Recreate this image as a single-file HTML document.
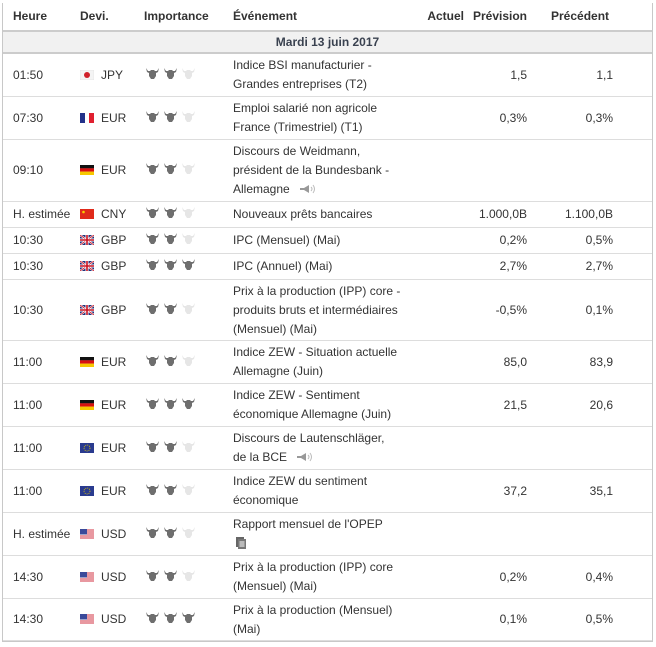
<!DOCTYPE html>
<html><head><meta charset="utf-8"><style>
body{margin:0;background:#fff;font-family:"Liberation Sans",Arial,sans-serif;font-size:12px;color:#333;}
.wrap{position:absolute;left:2px;top:3px;width:649px;height:638px;border:1px solid #c8c8c8;border-top:none;}
table{border-collapse:collapse;table-layout:fixed;width:649px;}
td,th{padding:0;vertical-align:middle;line-height:19px;}
th{font-weight:bold;text-align:left;height:27px;font-size:12px;color:#333;}
tr.date td{background:#f1f1f1;border-top:2px solid #ccc;border-bottom:2px solid #ccc;height:20px;text-align:center;font-weight:bold;color:#3a4250;}
tr.r td{border-bottom:1px solid #ddd;}
.h{padding-left:10px;}
.num{text-align:right;}
.flag{display:inline-block;vertical-align:-1px;margin-right:7px;}
.b{display:inline-block;margin-right:5px;vertical-align:-1px;}
</style></head><body>
<div class="wrap">
<table>
<colgroup><col style="width:74px"><col style="width:65px"><col style="width:88px"><col style="width:174px"><col style="width:60px"><col style="width:65px"><col style="width:123px"></colgroup>
<thead><tr>
<th class="h">Heure</th>
<th style="padding-left:3px">Devi.</th>
<th style="padding-left:2px">Importance</th>
<th style="padding-left:3px">Événement</th>
<th class="num">Actuel</th>
<th class="num" style="padding-right:2px">Prévision</th>
<th style="padding-left:22px">Précédent</th>
</tr></thead>
<tbody id="tb">
<tr class="date"><td colspan="7">Mardi 13 juin 2017</td></tr>
</tbody></table></div>
<script>
const rows=[
["01:50","JP","JPY",2,"Indice BSI manufacturier -<br>Grandes entreprises (T2)","1,5","1,1",43],
["07:30","FR","EUR",2,"Emploi salarié non agricole<br>France (Trimestriel) (T1)","0,3%","0,3%",43],
["09:10","DE","EUR",2,"Discours de Weidmann,<br>président de la Bundesbank -<br>Allemagne SPK","","",62],
["H. estimée","CN","CNY",2,"Nouveaux prêts bancaires","1.000,0B","1.100,0B",26],
["10:30","GB","GBP",2,"IPC (Mensuel) (Mai)","0,2%","0,5%",26],
["10:30","GB","GBP",3,"IPC (Annuel) (Mai)","2,7%","2,7%",26],
["10:30","GB","GBP",2,"Prix à la production (IPP) core -<br>produits bruts et intermédiaires<br>(Mensuel) (Mai)","-0,5%","0,1%",61],
["11:00","DE","EUR",2,"Indice ZEW - Situation actuelle<br>Allemagne (Juin)","85,0","83,9",43],
["11:00","DE","EUR",3,"Indice ZEW - Sentiment<br>économique Allemagne (Juin)","21,5","20,6",43],
["11:00","EU","EUR",2,"Discours de Lautenschläger,<br>de la BCE SPK","","",43],
["11:00","EU","EUR",2,"Indice ZEW du sentiment<br>économique","37,2","35,1",43],
["H. estimée","US","USD",2,"Rapport mensuel de l'OPEP<br>DOC","","",43],
["14:30","US","USD",2,"Prix à la production (IPP) core<br>(Mensuel) (Mai)","0,2%","0,4%",43],
["14:30","US","USD",3,"Prix à la production (Mensuel)<br>(Mai)","0,1%","0,5%",42]
];
const flags={
JP:'<rect width="14" height="10" fill="#f4f4f4" stroke="#ddd" stroke-width=".5"/><circle cx="7" cy="5" r="3" fill="#d0202a"/>',
FR:'<rect width="5" height="10" fill="#23328a"/><rect x="5" width="4" height="10" fill="#fff"/><rect x="9" width="5" height="10" fill="#e02030"/>',
DE:'<rect width="14" height="3.4" fill="#111"/><rect y="3.3" width="14" height="3.4" fill="#d81010"/><rect y="6.6" width="14" height="3.4" fill="#f6c800"/>',
CN:'<rect width="14" height="10" fill="#e02a1a"/><circle cx="3.5" cy="3" r="1.3" fill="#f6d000"/>',
GB:'<rect width="14" height="10" fill="#22307a"/><path d="M0 0L14 10M14 0L0 10" stroke="#fff" stroke-width="2"/><path d="M0 0L14 10M14 0L0 10" stroke="#c81020" stroke-width=".8"/><path d="M7 0V10M0 5H14" stroke="#fff" stroke-width="3"/><path d="M7 0V10M0 5H14" stroke="#c81020" stroke-width="1.6"/>',
EU:'<rect width="14" height="10" fill="#2a3b8f"/><circle cx="7" cy="5" r="3" fill="none" stroke="#e8d000" stroke-width=".8" stroke-dasharray="1 1"/>',
US:'<rect width="14" height="10" fill="#fff"/><path d="M0 1H14M0 3H14M0 5H14M0 7H14M0 9H14" stroke="#d03040" stroke-width="1"/><rect width="7" height="5.5" fill="#3a4a9a"/>'
};
function bull(c){return '<svg class="b" width="13" height="12" viewBox="0 0 13 12"><path d="M0 0L2 3L4 3L5 2L8 2L9 3L11 3L13 0L12 4L10 5L10 8L8 11L5 11L3 8L3 5L1 4Z" fill="'+c+'"/></svg>';}
const SPK='<svg width="18" height="10" style="vertical-align:-1px;margin-left:6px"><path d="M1 4H5L10 1V9L5 6H1Z" fill="#999"/><path d="M12 3Q14 5 12 7M14 1Q17 5 14 9" stroke="#bbb" fill="none"/></svg>';
const DOC='<svg width="10" height="12" style="vertical-align:-2px;margin-left:3px"><rect x="0" y="0" width="8" height="10" fill="#666"/><rect x="2" y="2" width="8" height="10" fill="#777"/><path d="M3.5 5H8.5M3.5 7H8.5M3.5 9H8.5" stroke="#fff"/></svg>';
const tb=document.getElementById('tb');
rows.forEach((r,i)=>{
 const tr=document.createElement('tr');
 tr.className='r';
 
 
 let imp='';for(let k=0;k<3;k++)imp+=bull(k<r[3]?'#6e6e6e':'#e6e6e6');
 let ev=r[4].replace('SPK',SPK).replace('DOC',DOC);
 tr.innerHTML='<td class="h" style="height:'+(r[7]-1)+'px">'+r[0]+'</td>'+
 '<td style="padding-left:3px"><svg class="flag" width="14" height="10">'+flags[r[1]]+'</svg>'+r[2]+'</td>'+
 '<td style="padding-left:4px">'+imp+'</td>'+
 '<td style="padding-left:3px">'+ev+'</td>'+
 '<td class="num"></td>'+
 '<td class="num" style="padding-right:2px">'+r[5]+'</td>'+
 '<td class="num" style="padding-right:39px">'+r[6]+'</td>';
 tb.appendChild(tr);
});
</script>
</body></html>
